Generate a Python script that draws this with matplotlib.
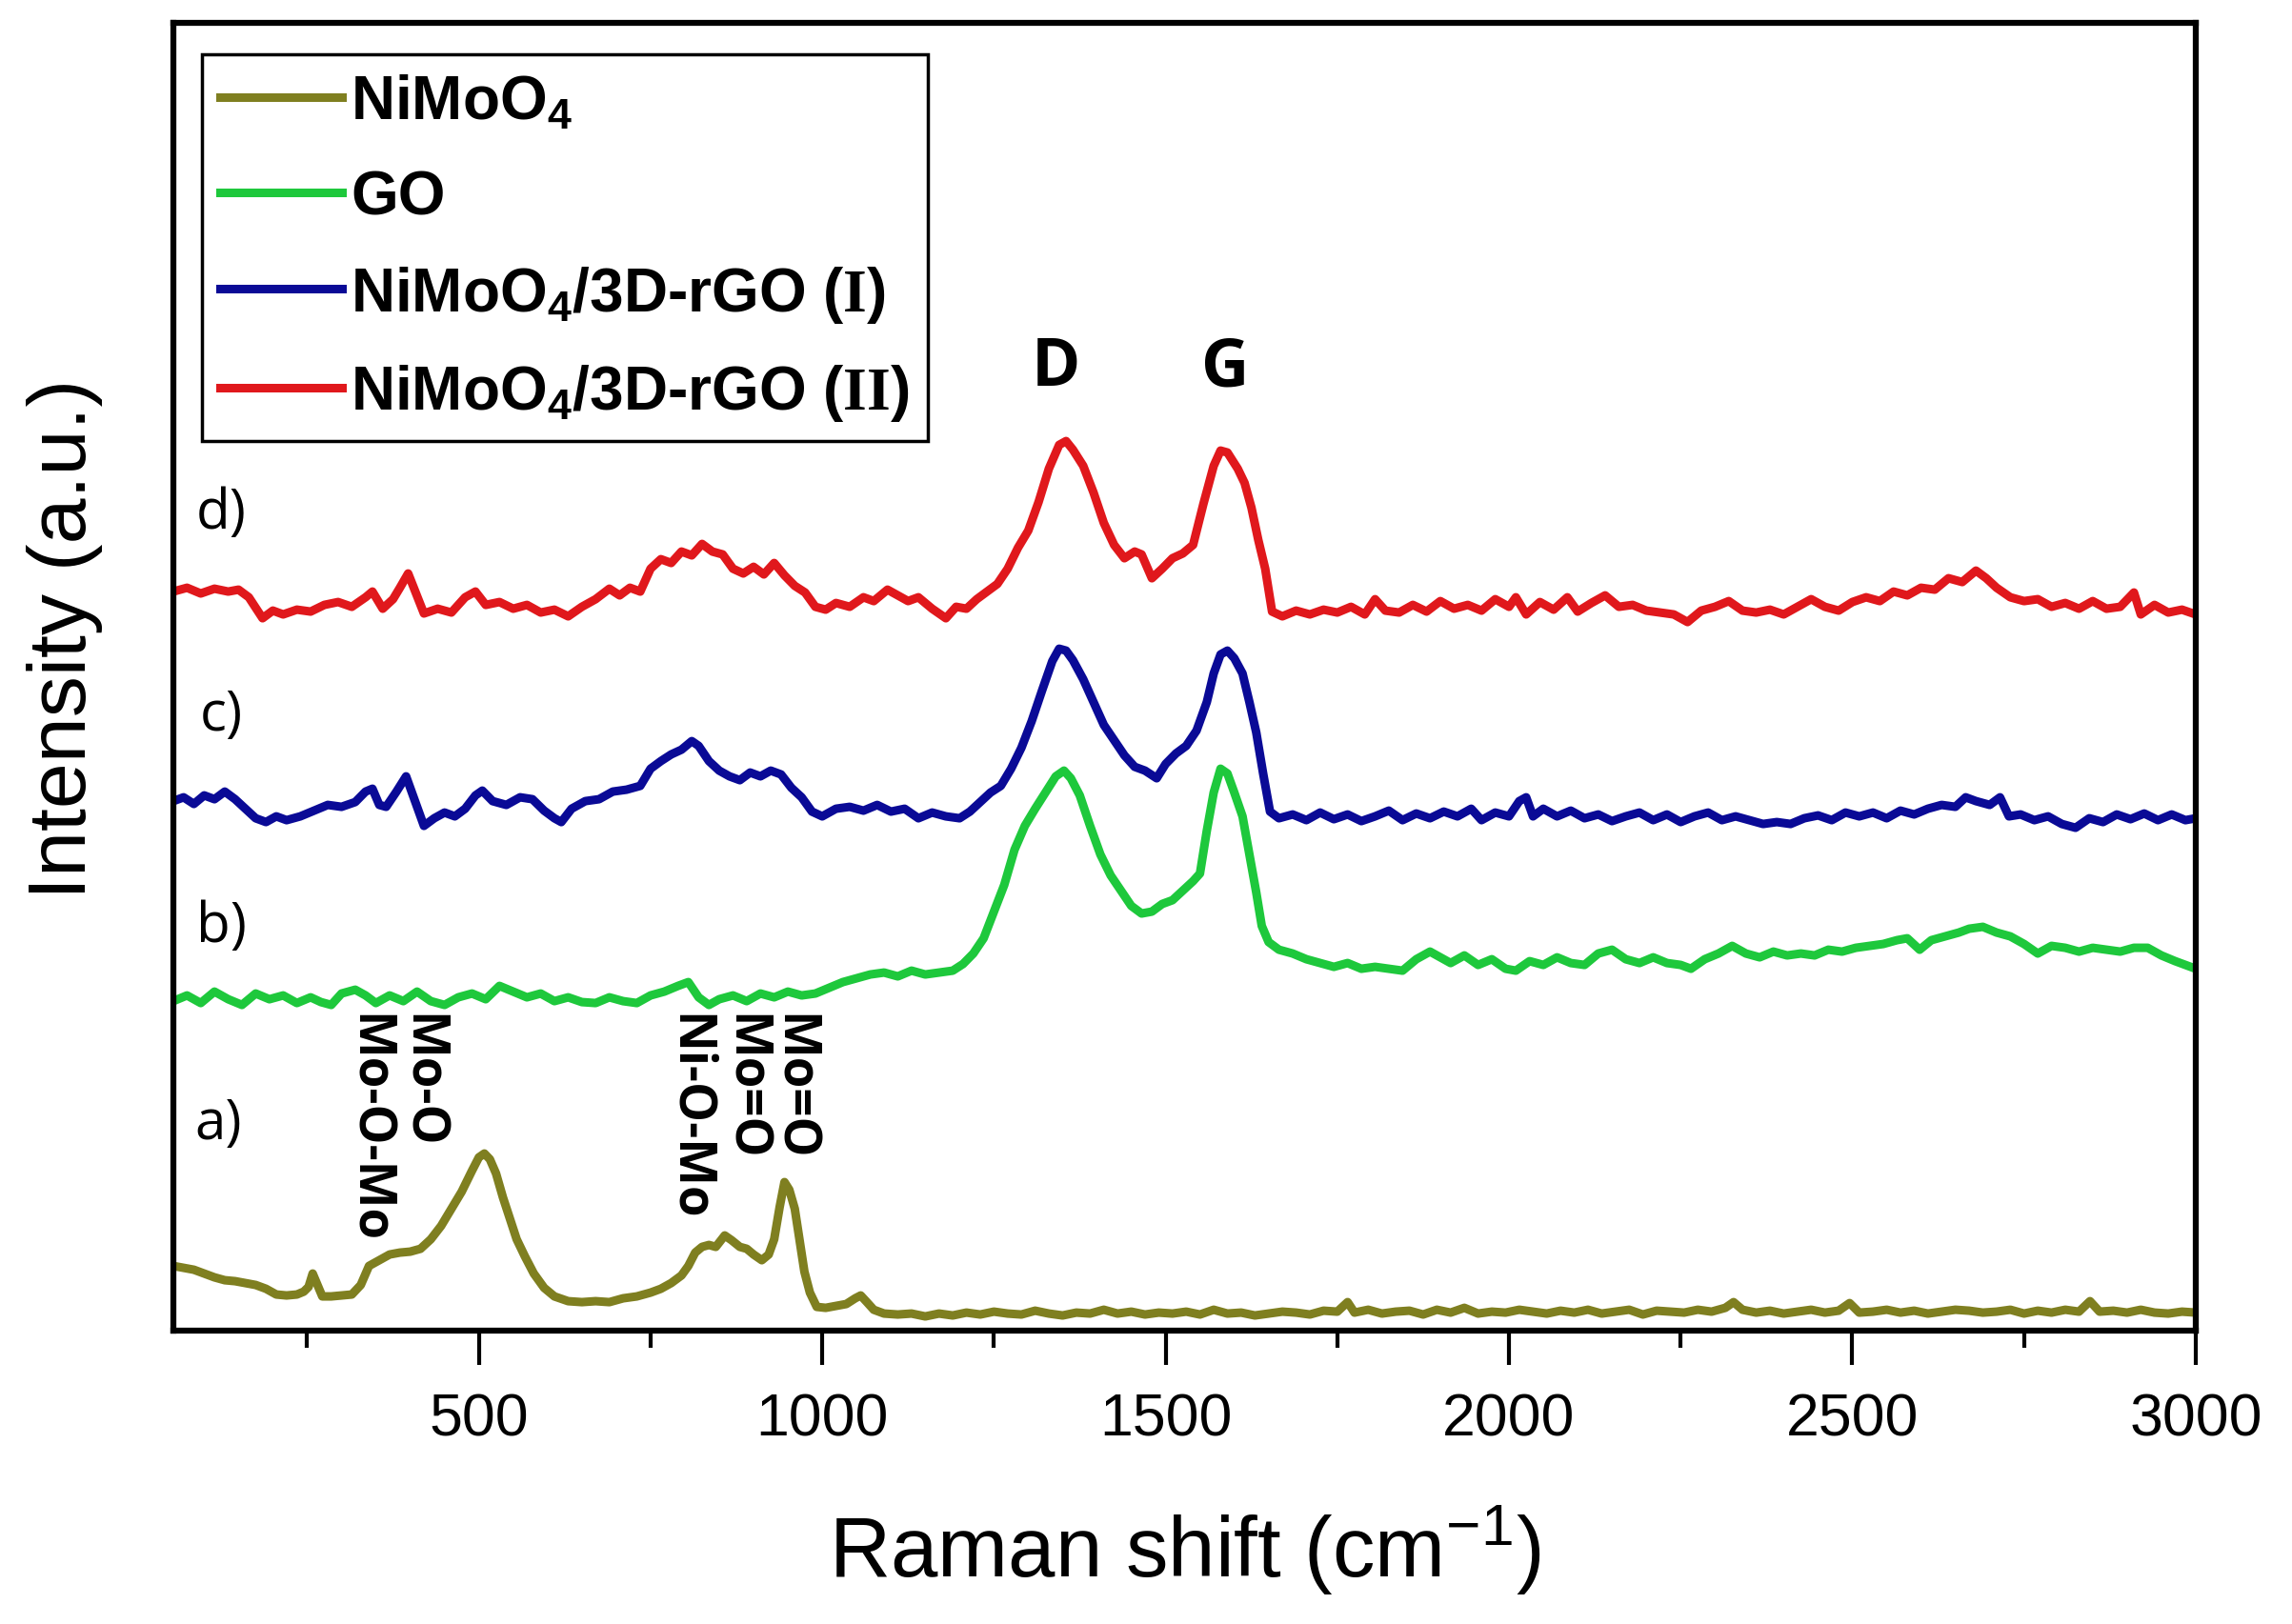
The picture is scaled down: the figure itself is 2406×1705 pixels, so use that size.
import matplotlib
matplotlib.use("Agg")
import matplotlib.pyplot as plt
from matplotlib.ticker import MultipleLocator

plt.rcParams["font.family"] = ["Liberation Sans", "DejaVu Sans"]
plt.rcParams["mathtext.fontset"] = "custom"
plt.rcParams["mathtext.bf"] = "Liberation Sans:bold"
plt.rcParams["mathtext.rm"] = "Liberation Serif:bold"
plt.rcParams["mathtext.sf"] = "Liberation Sans"
plt.rcParams["mathtext.it"] = "Liberation Sans:italic"

# Raman spectra (intensity in arbitrary units, offsets included)
shiftD = [55, 75, 95, 115, 135, 150, 165, 185, 200, 215, 235, 255, 275, 295, 315, 335, 345, 360, 375, 385,
          397, 408, 420, 440, 460, 480, 495, 510, 530, 550, 570, 590, 610, 630, 650, 670, 690, 705, 720, 735,
          750, 765, 780, 795, 810, 825, 840, 855, 870, 885, 900, 915, 930, 945, 960, 975, 990, 1005, 1020, 1040,
          1060, 1075, 1095, 1110, 1125, 1140, 1160, 1180, 1195, 1210, 1225, 1240, 1255, 1270, 1285, 1300, 1315,
          1330, 1345, 1355, 1365, 1380, 1395, 1410, 1425, 1440, 1455, 1465, 1480, 1495, 1510, 1525, 1540, 1555,
          1570, 1580, 1590, 1605, 1615, 1625, 1635, 1645, 1655, 1670, 1690, 1710, 1730, 1750, 1770, 1790, 1805,
          1820, 1840, 1860, 1880, 1900, 1920, 1940, 1960, 1980, 2000, 2010, 2025, 2045, 2065, 2085, 2100, 2120,
          2140, 2160, 2180, 2200, 2220, 2240, 2260, 2280, 2300, 2320, 2340, 2360, 2380, 2400, 2420, 2440, 2460,
          2480, 2500, 2520, 2540, 2560, 2580, 2600, 2620, 2640, 2660, 2680, 2695, 2710, 2730, 2750, 2770, 2790,
          2810, 2830, 2850, 2870, 2890, 2910, 2920, 2940, 2960, 2980, 3000]
intensityD = [776, 780, 774, 779, 776, 778, 770, 748, 756, 752, 757, 755, 762, 765, 760, 770, 776, 758, 768, 780,
              795, 775, 753, 758, 754, 770, 776, 762, 765, 758, 762, 754, 757, 750, 760, 768, 779, 772, 780, 776,
              800, 810, 806, 818, 814, 826, 818, 815, 800, 795, 802, 794, 806, 793, 782, 775, 760, 757, 764, 760,
              770, 766, 778, 772, 766, 770, 758, 748, 760, 758, 768, 776, 784, 800, 822, 840, 870,
              905, 930, 934, 925, 908, 880, 848, 825, 811, 818, 815, 790, 800, 811, 816, 825, 868,
              908, 924, 922, 905, 890, 864, 830, 800, 755, 750, 756, 752, 757, 754, 760, 752, 768,
              756, 754, 762, 755, 766, 758, 762, 756, 768, 760, 770, 752, 765, 757, 770, 755, 764,
              772, 760, 762, 756, 754, 752, 744, 756, 760, 766, 756, 754, 757, 752, 760, 768, 760,
              756, 765, 770, 766, 776, 772, 780, 778, 790, 786, 798, 790, 780, 770, 766, 768, 760,
              764, 758, 766, 758, 760, 775, 752, 762, 754, 757, 752]

shiftC = [55, 70, 85, 100, 115, 130, 145, 160, 175, 190, 205, 220, 240, 260, 280, 300, 320, 335, 345, 355,
          365, 380, 394, 405, 420, 435, 450, 465, 480, 495, 505, 520, 540, 560, 578, 595, 610, 620, 635, 655,
          675, 695, 715, 735, 750, 765, 780, 795, 810, 820, 835, 850, 865, 880, 895, 910, 925, 940, 955, 970,
          985, 1000, 1020, 1040, 1060, 1080, 1100, 1120, 1140, 1160, 1180, 1200, 1215, 1230, 1245, 1260, 1275,
          1290, 1305, 1320, 1335, 1345, 1355, 1365, 1380, 1395, 1410, 1425, 1440, 1455, 1470, 1487, 1500, 1515,
          1530, 1545, 1560, 1570, 1580, 1590, 1600, 1612, 1622, 1632, 1642, 1652, 1665, 1685, 1705, 1725, 1745,
          1765, 1785, 1805, 1825, 1845, 1865, 1885, 1905, 1925, 1945, 1960, 1980, 2000, 2015, 2025, 2035, 2050,
          2070, 2090, 2110, 2130, 2150, 2170, 2190, 2210, 2230, 2250, 2270, 2290, 2310, 2330, 2350, 2370, 2390,
          2410, 2430, 2450, 2470, 2490, 2510, 2530, 2550, 2570, 2590, 2610, 2630, 2650, 2665, 2680, 2700, 2715,
          2728, 2745, 2765, 2785, 2805, 2825, 2845, 2865, 2885, 2905, 2925, 2945, 2965, 2985, 3000]
intensityC = [556, 560, 553, 562, 558, 566, 558, 548, 538, 534, 540, 536, 540, 546, 552, 550, 555, 566, 569, 552,
              550, 566, 582, 560, 530, 538, 544, 540, 548, 562, 567, 556, 552, 560, 558, 546, 538, 534, 548, 556,
              558, 566, 568, 572, 590, 598, 605, 610, 619, 614, 598, 588, 582, 578, 586, 582, 588, 584, 570, 560,
              545, 540, 548, 550, 546, 552, 545, 548, 538, 544, 540, 538, 545, 555, 565, 572, 590,
              612, 640, 672, 703, 716, 714, 704, 684, 660, 636, 620, 604, 592, 588, 580, 595, 606,
              614, 630, 660, 690, 710, 714, 706, 690, 660, 628, 585, 545, 538, 542, 536, 544, 537,
              542, 535, 540, 546, 536, 543, 538, 545, 540, 548, 536, 544, 540, 556, 560, 540, 548,
              540, 546, 538, 542, 535, 540, 544, 536, 542, 534, 540, 544, 536, 540, 536, 532, 534,
              532, 538, 541, 536, 544, 540, 544, 538, 546, 542, 548, 552, 550, 560, 556, 552, 560,
              540, 542, 536, 540, 532, 528, 538, 534, 542, 537, 543, 536, 542, 536, 538]

shiftB = [55, 75, 95, 115, 135, 155, 175, 195, 215, 235, 255, 270, 285, 300, 320, 335, 350, 370, 390, 410,
          430, 450, 470, 490, 510, 530, 550, 570, 590, 610, 630, 650, 670, 690, 710, 730, 750, 770, 790, 805,
          820, 835, 850, 870, 890, 910, 930, 950, 970, 990, 1010, 1030, 1050, 1070, 1090, 1110, 1130, 1150,
          1170, 1190, 1205, 1220, 1235, 1250, 1265, 1280, 1295, 1310, 1325, 1340, 1352, 1362, 1375, 1390, 1405,
          1420, 1435, 1450, 1465, 1480, 1495, 1510, 1525, 1540, 1550, 1560, 1570, 1580, 1590, 1600, 1612, 1622,
          1632, 1640, 1650, 1665, 1685, 1705, 1725, 1745, 1765, 1785, 1805, 1825, 1845, 1865, 1885, 1900, 1915,
          1935, 1955, 1975, 1995, 2010, 2030, 2050, 2070, 2090, 2110, 2130, 2150, 2170, 2190, 2210, 2230, 2250,
          2265, 2285, 2305, 2325, 2345, 2365, 2385, 2405, 2425, 2445, 2465, 2485, 2505, 2525, 2545, 2565, 2580,
          2598, 2615, 2635, 2655, 2670, 2690, 2710, 2730, 2750, 2770, 2790, 2810, 2830, 2850, 2870, 2890, 2910,
          2930, 2950, 2970, 2985, 3000]
intensityB = [346, 352, 344, 356, 348, 342, 354, 348, 352, 344, 350, 345, 342, 354, 358, 352, 344, 352, 346, 356,
              346, 342, 350, 354, 348, 362, 356, 350, 354, 346, 350, 345, 344, 350, 346, 344, 352, 356, 362, 366,
              350, 342, 348, 352, 346, 354, 350, 356, 352, 354, 360, 366, 370, 374, 376, 372, 378, 374,
              376, 378, 385, 396, 412, 440, 468, 505, 530, 548, 565, 582, 588, 580, 562, 530, 500,
              478, 462, 446, 438, 440, 448, 452, 462, 472, 480, 525, 565, 590, 585, 565, 540, 500,
              460, 425, 408, 400, 396, 390, 386, 382, 386, 380, 382, 380, 378, 390, 398, 392, 386,
              394, 384, 390, 380, 378, 388, 384, 392, 386, 384, 396, 400, 390, 386, 392, 386, 384,
              380, 390, 396, 404, 396, 392, 398, 394, 396, 394, 400, 398, 402, 404, 406, 410, 412,
              400, 410, 414, 418, 422, 424, 418, 414, 406, 396, 404, 402, 398, 402, 400, 398, 402,
              402, 394, 388, 384, 380]

shiftA = [55, 70, 85, 100, 115, 130, 145, 160, 175, 190, 205, 220, 235, 245, 252, 258, 265, 272, 285, 300,
          315, 328, 340, 355, 370, 385, 400, 415, 430, 445, 460, 475, 490, 500, 508, 516, 525, 535, 545, 555,
          567, 580, 595, 610, 630, 650, 670, 690, 710, 730, 750, 765, 780, 795, 805, 815, 825, 835, 845, 858,
          868, 880, 890, 900, 912, 922, 930, 938, 945, 952, 960, 967, 974, 982, 992, 1005, 1020, 1035, 1048,
          1056, 1065, 1075, 1090, 1110, 1130, 1150, 1170, 1190, 1210, 1230, 1250, 1270, 1290, 1310, 1330, 1350,
          1370, 1390, 1410, 1430, 1450, 1470, 1490, 1510, 1530, 1550, 1570, 1590, 1610, 1630, 1650, 1670, 1690,
          1710, 1730, 1750, 1765, 1775, 1795, 1815, 1835, 1855, 1875, 1895, 1915, 1935, 1955, 1975, 1995, 2015,
          2035, 2055, 2075, 2095, 2115, 2135, 2155, 2175, 2195, 2215, 2235, 2255, 2275, 2295, 2315, 2327, 2340,
          2360, 2380, 2400, 2420, 2440, 2460, 2480, 2496, 2510, 2530, 2550, 2570, 2590, 2610, 2630, 2650, 2670,
          2690, 2710, 2730, 2750, 2770, 2790, 2810, 2830, 2846, 2860, 2880, 2900, 2920, 2940, 2960, 2980, 3000]
intensityA = [68, 66, 64, 60, 56, 53, 52, 50, 48, 44, 38, 37, 38, 41, 46, 60, 48, 36, 36, 37,
              38, 48, 68, 74, 80, 82, 83, 86, 96, 110, 128, 146, 168, 182, 186, 180, 165, 140, 118, 96,
              78, 60, 45, 36, 31, 30, 31, 30, 34, 36, 40, 44, 50, 58, 68, 82, 88, 90, 88, 100,
              95, 88, 86, 80, 74, 80, 96, 130, 156, 148, 128, 95, 62, 40, 25, 24, 26, 28, 34,
              37, 30, 22, 18, 17, 18, 15, 18, 16, 19, 17, 20, 18, 17, 21, 18, 16,
              19, 18, 22, 18, 20, 17, 19, 18, 20, 17, 22, 18, 19, 16, 18, 20, 19,
              17, 21, 20, 30, 19, 22, 18, 20, 21, 17, 22, 19, 24, 18, 20, 19, 22,
              20, 18, 21, 19, 22, 18, 20, 22, 17, 21, 20, 19, 22, 20, 24, 30, 22,
              19, 21, 18, 20, 22, 19, 21, 29, 19, 20, 22, 19, 21, 18, 20, 22, 21,
              19, 20, 22, 18, 21, 19, 22, 20, 31, 20, 21, 19, 22, 19, 18, 20, 19]

seriesNames = ["NiMoO$_\\mathbf{4}$", "GO",
               "NiMoO$_\\mathbf{4}$/3D-rGO ($\\mathrm{I}$)", "NiMoO$_\\mathbf{4}$/3D-rGO ($\\mathrm{II}$)"]
seriesColors = ["#7f7f20", "#1ec83c", "#0a0a96", "#e0181c"]

curveTags = ["a)", "b)", "c)", "d)"]
tagShift = [121, 125, 125, 125]
tagLevel = [217, 424, 646, 858]

bandNames = ["Mo-O-Mo", "Mo-O", "Ni-O-Mo", "Mo=O", "Mo=O"]
bandShift = [338, 415, 805, 886, 956]
bandTop = 334

fig = plt.figure(figsize=(24.06, 17.06), dpi=100)
ax = fig.add_axes([0.0756, 0.1805, 0.8824, 0.8048])

allShift = [shiftA, shiftB, shiftC, shiftD]
allIntensity = [intensityA, intensityB, intensityC, intensityD]
for xs, ys, name, colour in zip(allShift, allIntensity, seriesNames, seriesColors):
    ax.plot(xs, ys, color=colour, linewidth=6.5, label=name)

ax.set_xlim(55, 3000)
ax.set_ylim(0, 1373)
ax.set_yticks([])
ax.xaxis.set_major_locator(MultipleLocator(500))
ax.xaxis.set_minor_locator(MultipleLocator(250))
ax.tick_params(axis="x", which="major", direction="out", length=26, width=3, labelsize=45, pad=20)
ax.tick_params(axis="x", which="minor", direction="out", length=13, width=3)
for spine in ax.spines.values():
    spine.set_linewidth(4.5)

ax.set_xlabel("Raman shift (cm$^{\\mathsf{-1}}$)", fontsize=64)
ax.xaxis.set_label_coords(0.5, -0.131)
ax.set_ylabel("Intensity (a.u.)", fontsize=62)
ax.yaxis.set_label_coords(-0.035, 0.53)

for tag, xs, lvl in zip(curveTags, tagShift, tagLevel):
    ax.text(xs, lvl, tag, fontsize=42, family=["Open Sans", "DejaVu Sans"], ha="center", va="center")

ax.text(1340, 1011, "D", fontsize=50, fontweight="bold", family=["Open Sans", "DejaVu Sans"],
        ha="center", va="center")
ax.text(1587, 1011, "G", fontsize=50, fontweight="bold", family=["Open Sans", "DejaVu Sans"],
        ha="center", va="center")

for band, xs in zip(bandNames, bandShift):
    ax.text(xs, bandTop, band, rotation=270, fontsize=38, fontweight="bold",
            family=["Open Sans", "DejaVu Sans"], ha="center", va="top")

leg = ax.legend(loc="upper left", bbox_to_anchor=(0.014, 0.976), borderaxespad=0,
                prop={"weight": "bold", "size": 46}, handlelength=2.0, handletextpad=0.15,
                labelspacing=0.62, borderpad=0.3, frameon=True, fancybox=False,
                edgecolor="black", framealpha=1)
leg.get_frame().set_linewidth(2.5)

fig.savefig("out.png", dpi=100)
